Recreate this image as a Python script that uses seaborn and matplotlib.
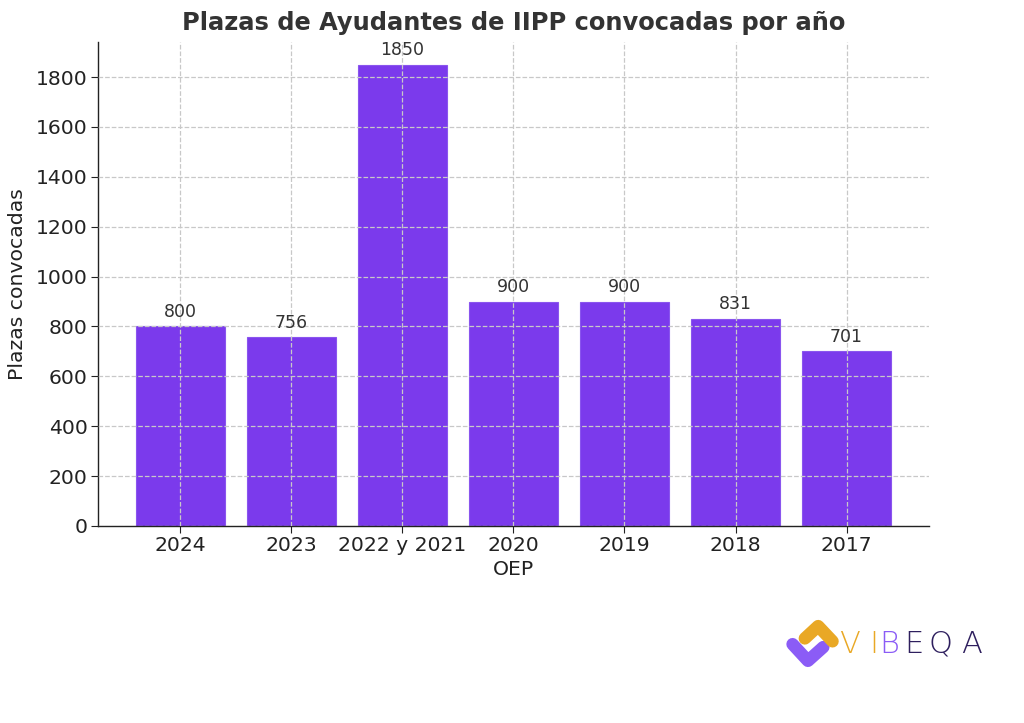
import matplotlib
matplotlib.use("Agg")
import matplotlib.pyplot as plt
import seaborn as sns
import pandas as pd
from matplotlib.lines import Line2D

# datos
oep = ["2024", "2023", "2022 y 2021", "2020", "2019", "2018", "2017"]
plazas = [800, 756, 1850, 900, 900, 831, 701]

df = pd.DataFrame({"OEP": oep, "Plazas": plazas})

sns.set_style("white")
plt.rcParams["font.family"] = ["DejaVu Sans"]

fig = plt.figure(figsize=(10.24, 7.23), dpi=100)
ax = fig.add_axes([0.0957, 0.2725, 0.8113, 0.670])

sns.barplot(data=df, x="OEP", y="Plazas", order=oep, color="#7B3AEC",
            saturation=1, width=0.8, ax=ax, edgecolor="#8a55ee", linewidth=0.8)

ax.set_xlim(-0.74, len(oep) - 1 + 0.74)
ax.set_ylim(0, max(plazas) * 1.05)

for i, v in enumerate(plazas):
    ax.text(i, v + 22, str(v), ha="center", va="bottom", fontsize=12.5, color="#333333")

ax.grid(True, linestyle="--", color="#c8c8c8", linewidth=0.9)
ax.set_axisbelow(False)
for s in ["top", "right"]:
    ax.spines[s].set_visible(False)
for s in ["left", "bottom"]:
    ax.spines[s].set_color("#222222")
    ax.spines[s].set_linewidth(1.0)

ax.tick_params(axis="both", labelsize=14.7, colors="#222222", length=5, pad=2.5,
               left=True, bottom=True)
ax.set_yticks(range(0, 2000, 200))
ax.set_xlabel("OEP", fontsize=14.7, color="#222222", labelpad=3)
ax.set_ylabel("Plazas convocadas", fontsize=14.7, color="#222222", labelpad=6)
ax.set_title("Plazas de Ayudantes de IIPP convocadas por año", fontsize=17.4,
             fontweight="bold", color="#333333", pad=8)

# logo VIBEQA
fig.add_artist(Line2D([0.774, 0.789, 0.804], [0.109, 0.086, 0.105],
                      transform=fig.transFigure, color="#8B5CF6", linewidth=9,
                      solid_capstyle="round", solid_joinstyle="round"))
fig.add_artist(Line2D([0.786, 0.799, 0.813], [0.117, 0.134, 0.113],
                      transform=fig.transFigure, color="#E9A825", linewidth=9,
                      solid_capstyle="round", solid_joinstyle="round"))
letras = ["V", "I", "B", "E", "Q", "A"]
colores = ["#E9A825", "#E9A825", "#8B5CF6", "#2E1F5E", "#2E1F5E", "#2E1F5E"]
xs = [0.830, 0.853, 0.868, 0.892, 0.918, 0.949]
for l, c, x in zip(letras, colores, xs):
    fig.text(x, 0.109, l, fontsize=22, color=c, ha="center", va="center",
             fontweight="light")

fig.savefig("out.png", dpi=100)
